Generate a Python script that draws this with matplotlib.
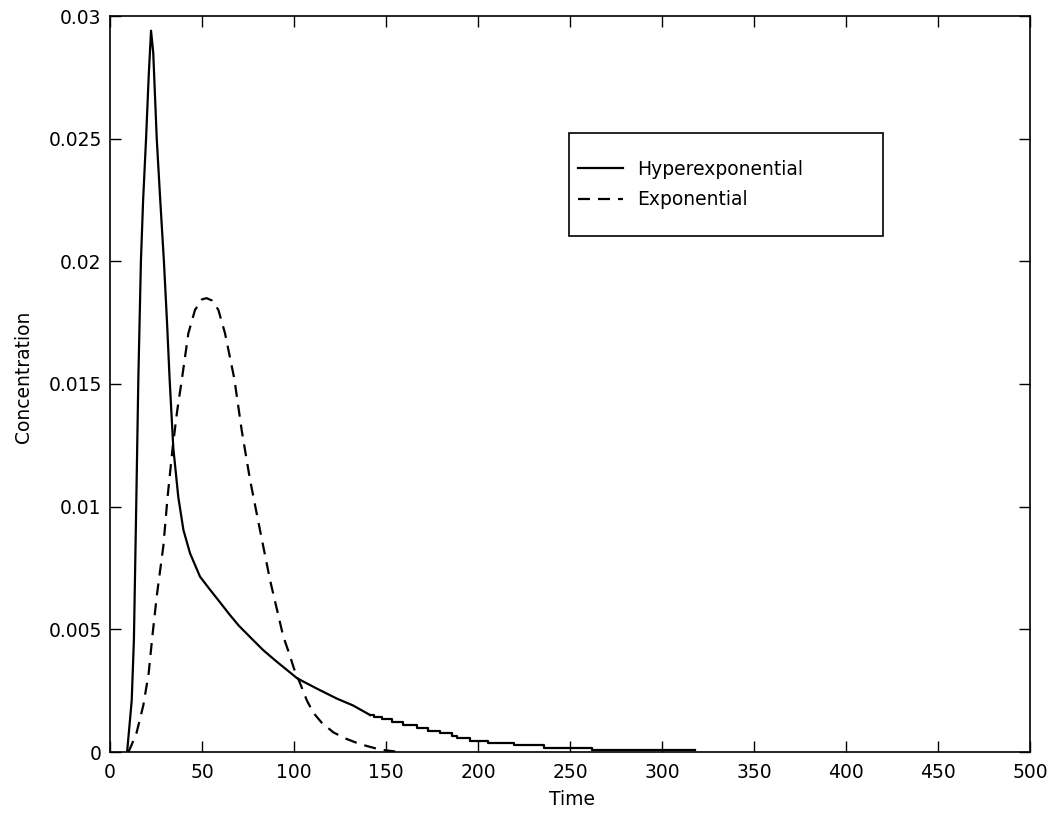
import numpy as np
import matplotlib
matplotlib.use("Agg")
import matplotlib.pyplot as plt
from matplotlib.patches import Rectangle
from matplotlib.ticker import FormatStrFormatter

# hyperexponential response, smooth part
hyper_t = [9.3, 11.8, 13, 14.2, 15.4, 16.8, 18, 19.6, 21, 22.3, 23.5, 25.4,
           27.3, 29.3, 31, 32.4, 34.4, 37.1, 39.9, 43.5, 48.9, 54, 59.8, 65,
           70, 77, 83.3, 90, 101.8, 112, 123.2, 132, 141.3]
hyper_c = [0, 0.0021, 0.0046, 0.0098, 0.0152, 0.0200, 0.0225, 0.0250, 0.0275,
           0.0294, 0.0285, 0.0250, 0.0225, 0.0200, 0.0175, 0.0152, 0.0124,
           0.0104, 0.00905, 0.0081, 0.00715, 0.00665, 0.0061, 0.0056,
           0.00515, 0.00462, 0.00415, 0.00372, 0.0030, 0.0026, 0.00218,
           0.0019, 0.00151]

# staircase tail of the hyperexponential curve
tail_t = [141.3, 143.5, 147.7, 153.1, 159.4, 166.7, 173, 179.4, 185.7, 188.4,
          195.7, 205.7, 219.3, 235.6, 261.8, 318]
tail_c = [0.00151, 0.00141, 0.00133, 0.00124, 0.0011, 0.00097, 0.00086,
          0.00076, 0.00065, 0.00056, 0.00046, 0.00038, 0.00029, 0.00017,
          0.00007, 0.00007]

# exponential response
expo_t = [10, 11.8, 14.5, 18.1, 21, 23, 25.4, 29, 31.3, 34.1, 36.5, 39, 42.6,
          46.2, 50, 52.5, 55.5, 58.9, 62.5, 67.6, 71.6, 76.1, 81.5, 87, 94.2,
          97, 100, 103.3, 107, 110.5, 115, 121.4, 128, 135.9, 146.7, 155]
expo_c = [0, 0.0003, 0.0008, 0.0019, 0.0032, 0.0047, 0.00635, 0.0084,
          0.0104, 0.01244, 0.0139, 0.01516, 0.01707, 0.01802, 0.01845,
          0.0185, 0.0184, 0.01802, 0.01707, 0.0152, 0.0131, 0.0111, 0.00905,
          0.0070, 0.0047, 0.0041, 0.0034, 0.0028, 0.0021, 0.0016, 0.0012,
          0.0008, 0.00055, 0.00032, 0.0001, 0.00002]

xticks = np.arange(0, 501, 50)
yticks = np.arange(0, 0.0301, 0.005)

plt.rcParams['font.family'] = ['DejaVu Sans']
fig = plt.figure(figsize=(10.62, 8.16), dpi=100)
ax = fig.add_axes([110/1062, 1 - 752/816, 920/1062, 736/816])

lw = 1.6
ax.plot(hyper_t, hyper_c, color='black', lw=lw, label='Hyperexponential')
ax.plot(tail_t, tail_c, color='black', lw=lw, drawstyle='steps-post')
ax.plot(expo_t, expo_c, color='black', lw=lw, dashes=(5.4, 3.6),
        label='Exponential')

ax.set_xlim(0, 500)
ax.set_ylim(0, 0.03)
ax.set_xticks(xticks)
ax.set_yticks(yticks)
ax.yaxis.set_major_formatter(FormatStrFormatter('%g'))
ax.tick_params(direction='in', length=8, width=1, top=True, right=True,
               labelsize=13.5)
ax.tick_params(axis='y', pad=6)
ax.tick_params(axis='x', pad=8)
for s in ax.spines.values():
    s.set_linewidth(1.2)

ax.set_xlabel('Time', fontsize=13.5)
ax.set_ylabel('Concentration', fontsize=13.5)
ax.xaxis.set_label_coords(0.502, -0.052)
ax.yaxis.set_label_coords(-0.084, 0.51)

ax.add_patch(Rectangle((0.499, 0.701), 0.341, 0.14, transform=ax.transAxes,
                       fill=False, edgecolor='black', lw=1.2))
ax.legend(loc='center left', bbox_to_anchor=(0.5087, 0.771), frameon=False,
          borderpad=0, borderaxespad=0, handlelength=2.4, handletextpad=0.75,
          labelspacing=0.6, fontsize=13.5)

fig.savefig('out.png', dpi=100)
